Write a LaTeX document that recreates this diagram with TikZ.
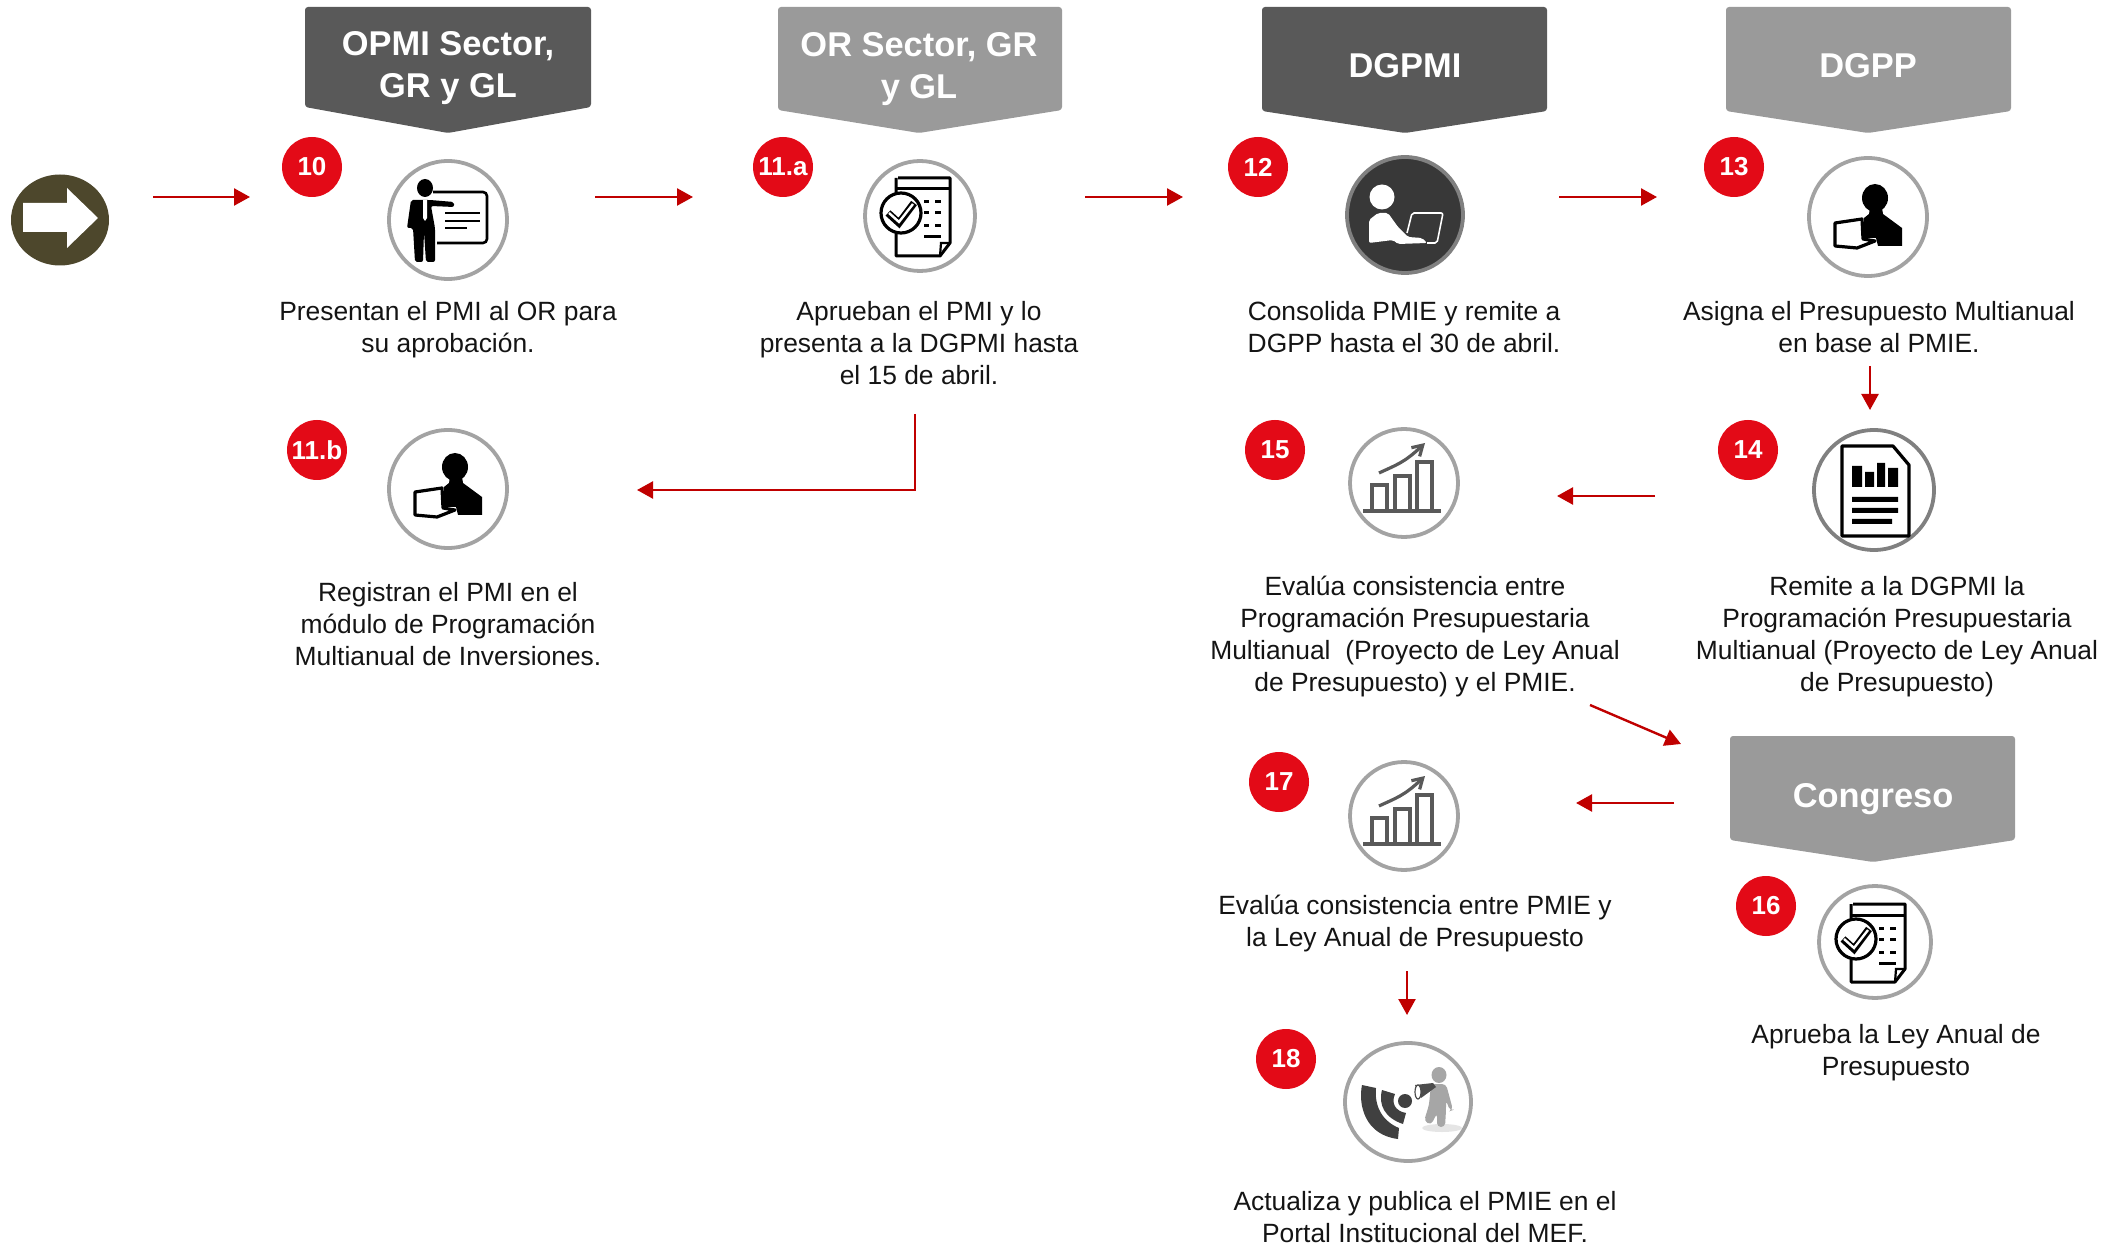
\documentclass[tikz,border=0pt]{standalone}
\usepackage{fontspec}
\setmainfont{Liberation Sans}
\usetikzlibrary{arrows.meta,shapes.geometric}
\definecolor{oscuro}{HTML}{595959}
\definecolor{claro}{HTML}{9A9A9A}
\definecolor{rojoflecha}{HTML}{C00000}
\definecolor{rojonum}{HTML}{E30A17}
\definecolor{aro}{HTML}{A3A3A3}
\definecolor{oliva}{HTML}{4D472C}
\tikzset{
  laptopico/.pic={
    \fill[black] (7,-22) ellipse (13 and 14);
    \fill[black] (-4,-2) -- (1,-6) -- (2,-12) -- (14,-12) -- (15,-6) -- (34,8) -- (34,26) -- (10,26) -- (8,18) -- (-4,18) -- cycle;
    \draw[black,line width=1.6pt,line join=round,fill=white] (-33,3) -- (-6,-1) -- (-5,19) -- (7,21) -- (-11,28) -- (-33,26) -- cycle;
  },
  docico/.pic={
    \draw[black,line width=1.5pt,line join=round] (-22,-38) -- (30,-38) -- (30,27) -- (20,40) -- (-24,40) -- (-24,-38);
    \draw[black,line width=1.5pt] (-24,-27) -- (30,-27);
    \draw[black,line width=1.1pt] (30,27) -- (21,27) -- (20,40);
    \draw[black,line width=1.6pt,fill=white] (-19,-3) circle (20);
    \draw[black,line width=3.6pt] (-32,-3) -- (-21,7) -- (-6,-13);
    \draw[white,line width=1.2pt] (-31,-3) -- (-21,6) -- (-7,-12);
    \foreach \yy in {-14,-3,10}
      \draw[black,line width=1.5pt] (4,\yy) -- (9,\yy) (15,\yy) -- (21,\yy);
    \draw[black,line width=1.5pt] (4,21) -- (21,21);
  },
  barrasico/.pic={
    \draw[oscuro,line width=2pt] (-41,28) -- (37,28);
    \draw[oscuro,line width=1.6pt] (-32,28) -- (-32,2) -- (-17,2) -- (-17,28);
    \draw[oscuro,line width=1.6pt] (-9,28) -- (-9,-7) -- (6,-7) -- (6,28);
    \draw[oscuro,line width=1.6pt] (13,28) -- (13,-21) -- (28,-21) -- (28,28);
    \draw[oscuro,line width=1.6pt,-{Straight Barb[length=5pt,width=6pt]}] (-25,-10) .. controls (-8,-18) and (0,-20) .. (21,-40);
  }
}
\begin{document}
\begin{tikzpicture}[x={0.5pt},y={-0.5pt},
  cabecera/.style={font=\fontsize{17.2}{20.9}\selectfont\bfseries,text=white,align=center,inner sep=0},
  numero/.style={circle,fill=rojonum,text=white,minimum size=30pt,inner sep=0,font=\fontsize{13}{15}\selectfont\bfseries},
  icono/.style={circle,draw=aro,fill=white,line width=1.9pt,inner sep=0},
  texto/.style={font=\fontsize{13.2}{16}\selectfont,align=center,inner sep=0,text=black!92},
  flecha/.style={draw=rojoflecha,line width=1.2pt,-{Triangle[length=8pt,width=8.5pt]}}]
\useasboundingbox (0,0) rectangle (2115,1245);

\fill[oscuro,rounded corners=1.5pt] (305,7) -- (591,7) -- (591,107) -- (448,133) -- (305,107) -- cycle;
\fill[claro,rounded corners=1.5pt] (778,7) -- (1062,7) -- (1062,110) -- (919,133) -- (778,110) -- cycle;
\fill[oscuro,rounded corners=1.5pt] (1262,7) -- (1547,7) -- (1547,111) -- (1405,133) -- (1262,111) -- cycle;
\fill[claro,rounded corners=1.5pt] (1726,7) -- (2011,7) -- (2011,111) -- (1868,133) -- (1726,111) -- cycle;
\fill[claro,rounded corners=1.5pt] (1730,736) -- (2015,736) -- (2015,840) -- (1873,862) -- (1730,840) -- cycle;
\node[cabecera] (opmi) at (448,68) {OPMI Sector,\\GR y GL};
\node[cabecera] (orsector) at (919,69) {OR Sector, GR\\y GL};
\node[cabecera] (dgpmi) at (1405,66) {DGPMI};
\node[cabecera] (dgpp) at (1868,66) {DGPP};
\node[cabecera] (congreso) at (1873,799) {Congreso};

\node[ellipse,fill=oliva,minimum width=49pt,minimum height=45.5pt,inner sep=0] (inicio) at (60,220) {};
\fill[white] (23,203) -- (67,203) -- (67,188) -- (98,218) -- (67,248) -- (67,232) -- (23,232) -- cycle;

\node[numero] (num10) at (312,167) {10};
\node[numero] (num11a) at (783,167) {11.a};
\node[numero] (num12) at (1258,167) {12};
\node[numero] (num13) at (1734,167) {13};
\node[numero] (num11b) at (317,450) {11.b};
\node[numero] (num15) at (1275,450) {15};
\node[numero] (num14) at (1748,450) {14};
\node[numero] (num17) at (1279,782) {17};
\node[numero] (num16) at (1766,906) {16};
\node[numero] (num18) at (1286,1059) {18};

\node[icono,minimum size=59pt] (ico10) at (448,220) {};
\node[icono,minimum size=55pt] (ico11a) at (920,216) {};
\node[icono,minimum size=58pt,fill=black!78,draw=black!50] (ico12) at (1405,215) {};
\node[icono,minimum size=59pt] (ico13) at (1868,217) {};
\node[icono,minimum size=59pt] (ico11b) at (448,489) {};
\node[icono,minimum size=54pt] (ico15) at (1404,483) {};
\node[icono,minimum size=60pt,draw=black!50] (ico14) at (1874,490) {};
\node[icono,minimum size=54pt] (ico17) at (1404,816) {};
\node[icono,minimum size=56pt] (ico16) at (1875,942) {};
\node[icono,ellipse,minimum width=63pt,minimum height=59pt] (ico18) at (1408,1102) {};

\draw[black,line width=1.3pt,rounded corners=2pt] (433,192) -- (487,192) -- (487,243) -- (437,243);
\fill[black] (425,188) ellipse (8 and 9);
\fill[black,rounded corners=1pt] (411,200) -- (430,200) -- (454,202) -- (454,207) -- (431,206) -- (435,228) -- (435,262) -- (426,262) -- (424,232) -- (423,262) -- (415,262) -- (413,228) -- (412,228) -- (407,228) -- cycle;
\fill[white] (423,200) -- (427,200) -- (427,218) -- (425,221) -- (423,218) -- cycle;
\draw[black,line width=1.2pt] (445,213) -- (480,213) (445,221) -- (480,221) (445,228) -- (467,228);

\pic at (ico11a) {docico};
\pic at (ico16) {docico};
\pic at (1868,220) {laptopico};
\pic at (ico11b) {laptopico};
\pic at (ico15) {barrasico};
\pic at (ico17) {barrasico};

\fill[white] (1382,197) circle (12.5);
\fill[white,rounded corners=1pt] (1369,220) -- (1378,213) -- (1388,213) -- (1398,227) -- (1408,237) -- (1422,238) -- (1427,243) -- (1398,244) -- (1393,240) -- (1369,243) -- cycle;
\draw[white,line width=0.8pt,rounded corners=1pt] (1407,233) -- (1412,213) -- (1443,213) -- (1437,243) -- (1427,243);

\draw[black,line width=1.6pt,line join=round] (1842,446) -- (1893,446) -- (1909,465) -- (1909,536) -- (1842,536) -- cycle;
\fill[black] (1852,466) rectangle (1862,487) (1865,472) rectangle (1874,487) (1877,463) rectangle (1885,487) (1888,468) rectangle (1898,487);
\fill[black] (1852,497) rectangle (1898,502) (1852,508) rectangle (1898,513) (1852,519) rectangle (1892,524);

\fill[black!75] (1362,1085) -- (1376,1088) .. controls (1374,1108) and (1384,1122) .. (1399,1128) -- (1398,1139) .. controls (1365,1135) and (1358,1105) .. (1362,1085) -- cycle;
\fill[black!75] (1382,1090) -- (1395,1094) .. controls (1391,1103) and (1395,1111) .. (1406,1113) -- (1403,1124) .. controls (1385,1118) and (1378,1105) .. (1382,1090) -- cycle;
\fill[black!75] (1405,1101) circle (7);
\fill[black!10] (1442,1128) ellipse (20 and 4);
\fill[black!35] (1439,1075) ellipse (7.5 and 8);
\fill[black!35,rounded corners=2pt] (1431,1084) -- (1446,1084) -- (1453,1110) -- (1450,1111) -- (1446,1100) -- (1446,1110) -- (1445,1127) -- (1437,1127) -- (1437,1113) -- (1431,1125) -- (1424,1121) -- (1429,1105) -- cycle;
\fill[black!70] (1433,1083) -- (1436,1087) -- (1421,1098) -- (1415,1085) -- cycle;
\draw[black!70,fill=white,line width=0.6pt] (1418,1092) ellipse (3 and 7);

\node[texto] (txt10) at (448,329.3) {Presentan el PMI al OR para\\su aprobación.};
\node[texto] (txt11a) at (919,343) {Aprueban el PMI y lo\\presenta a la DGPMI hasta\\el 15 de abril.};
\node[texto] (txt12) at (1404,326.7) {Consolida PMIE y remite a\\DGPP hasta el 30 de abril.};
\node[texto] (txt13) at (1879,326.7) {Asigna el Presupuesto Multianual\\en base al PMIE.};
\node[texto] (txt11b) at (448,624) {Registran el PMI en el\\módulo de Programación\\Multianual de Inversiones.};
\node[texto] (txt15) at (1415,636.7) {Evalúa consistencia entre\\Programación Presupuestaria\\Multianual\ \ (Proyecto de Ley Anual\\de Presupuesto) y el PMIE.};
\node[texto] (txt14) at (1897,636.7) {Remite a la DGPMI la\\Programación Presupuestaria\\Multianual (Proyecto de Ley Anual\\de Presupuesto)};
\node[texto] (txt17) at (1415,923.7) {Evalúa consistencia entre PMIE y\\la Ley Anual de Presupuesto};
\node[texto] (txt16) at (1896,1052.7) {Aprueba la Ley Anual de\\Presupuesto};
\node[texto] (txt18) at (1425,1217) {Actualiza y publica el PMIE en el\\Portal Institucional del MEF.};

\coordinate (sale0) at (153,197);
\coordinate (llega10) at (250,197);
\coordinate (sale10) at (595,197);
\coordinate (llega11a) at (693,197);
\coordinate (sale11a) at (1085,197);
\coordinate (llega12) at (1183,197);
\coordinate (sale12) at (1559,197);
\coordinate (llega13) at (1657,197);
\coordinate (sale13) at (1870,366);
\coordinate (llega14) at (1870,410);
\coordinate (sale14) at (1655,496);
\coordinate (llega15) at (1557,496);
\coordinate (salebaja) at (915,414);
\coordinate (codo) at (915,490);
\coordinate (llega11b) at (637,490);
\coordinate (sale15) at (1590,705);
\coordinate (llegacong) at (1681,744);
\coordinate (salecong) at (1674,803);
\coordinate (llega17) at (1576,803);
\coordinate (sale17) at (1407,971);
\coordinate (llega18) at (1407,1015);
\draw[flecha] (sale0) -- (llega10);
\draw[flecha] (sale10) -- (llega11a);
\draw[flecha] (sale11a) -- (llega12);
\draw[flecha] (sale12) -- (llega13);
\draw[flecha] (sale13) -- (llega14);
\draw[flecha] (sale14) -- (llega15);
\draw[flecha] (salebaja) -- (codo) -- (llega11b);
\draw[flecha] (sale15) -- (llegacong);
\draw[flecha] (salecong) -- (llega17);
\draw[flecha] (sale17) -- (llega18);
\end{tikzpicture}
\end{document}
